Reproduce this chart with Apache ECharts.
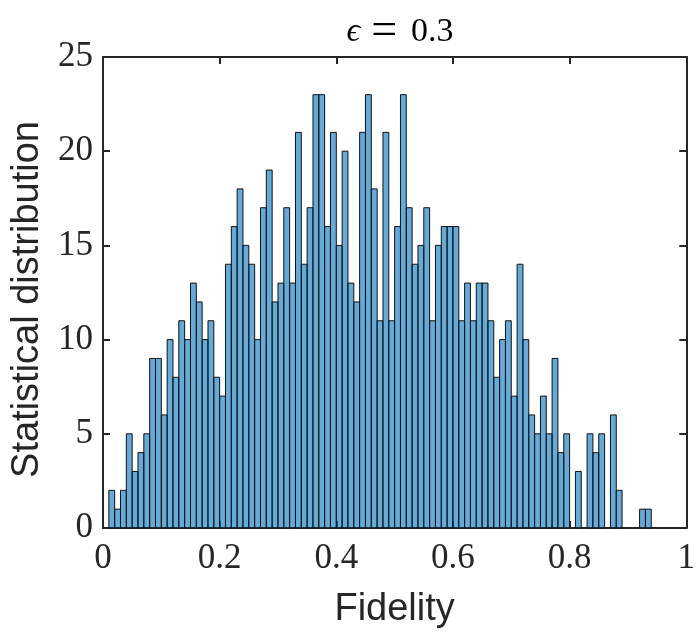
<!DOCTYPE html>
<html>
<head>
<meta charset="utf-8">
<script src="https://cdn.jsdelivr.net/npm/echarts@6/dist/echarts.min.js"></script>
<style>
html,body{margin:0;padding:0;background:#fff;}
#chart{width:698px;height:634px;}
</style>
</head>
<body>
<div id="chart"></div>
<script>
// Histogram: bins of width 0.01 starting at 0.01
var binStart = 0.01;
var binWidth = 0.01;
var counts = [
  2, 1, 2, 5, 3, 4, 5, 9, 9, 6,
  10, 8, 11, 10, 13, 12, 10, 11, 8, 7,
  14, 16, 18, 15, 14, 10, 17, 19, 12, 13,
  17, 13, 21, 14, 17, 23, 23, 16, 21, 15,
  20, 13, 12, 21, 23, 18, 11, 21, 11, 16,
  23, 17, 14, 15, 17, 11, 15, 16, 16, 16,
  11, 13, 11, 13, 13, 11, 8, 10, 11, 7,
  14, 10, 6, 5, 7, 5, 9, 4, 5, 0,
  3, 0, 5, 4, 5, 0, 6, 2, 0, 0,
  0, 1, 1
];
var xTicks = [0, 0.2, 0.4, 0.6, 0.8, 1];
var yTicks = [0, 5, 10, 15, 20, 25];
var titleText = '{e|ϵ}{eq|=}{n|0.3}';
var xName = 'Fidelity';
var yName = 'Statistical distribution';

var data = counts.map(function (c, i) {
  var x0 = +(binStart + i * binWidth).toFixed(4);
  var x1 = +(x0 + binWidth).toFixed(4);
  return [x0, x1, c];
});

var axisColor = '#262626';
var serif = '"Liberation Serif", "DejaVu Serif", serif';
var sans = '"Liberation Sans", Arial, sans-serif';

var chart = echarts.init(document.getElementById('chart'), null, {renderer: 'canvas'});
var baseX = {
  type: 'value', min: 0, max: 1, interval: 0.2,
  axisLine: {show: true, onZero: false, lineStyle: {color: axisColor, width: 2}},
  axisTick: {show: true, inside: true, length: 7, lineStyle: {color: axisColor, width: 2}},
  splitLine: {show: false}
};
var baseY = {
  type: 'value', min: 0, max: 25, interval: 5,
  axisLine: {show: true, onZero: false, lineStyle: {color: axisColor, width: 2}},
  axisTick: {show: true, inside: true, length: 7, lineStyle: {color: axisColor, width: 2}},
  splitLine: {show: false}
};
chart.setOption({
  animation: false,
  backgroundColor: '#ffffff',
  title: {
    text: titleText,
    left: 395, textAlign: 'center',
    top: 4,
    textStyle: {
      fontFamily: serif, fontSize: 34, fontWeight: 'normal', color: '#000',
      rich: {
        e: {fontFamily: serif, fontStyle: 'italic', fontSize: 34, color: '#000'},
        eq: {fontFamily: serif, fontSize: 46, color: '#000', padding: [0, 14, 0, 11]},
        n: {fontFamily: serif, fontSize: 34, color: '#000'}
      }
    }
  },
  grid: {left: 103, top: 57, width: 585, height: 476, containLabel: false},
  xAxis: [
    Object.assign({}, baseX, {
      position: 'bottom',
      name: xName, nameLocation: 'middle', nameGap: 63,
      nameTextStyle: {fontFamily: sans, fontSize: 38, color: '#262626'},
      axisLabel: {
        show: true, margin: 13, color: '#262626', fontFamily: serif, fontSize: 35,
        formatter: function (v) { return xTicks.indexOf(+v.toFixed(1)) >= 0 ? String(+v.toFixed(1)) : ''; }
      }
    }),
    Object.assign({}, baseX, {position: 'top', axisLabel: {show: false}})
  ],
  yAxis: [
    Object.assign({}, baseY, {
      position: 'left',
      name: yName, nameLocation: 'middle', nameGap: 56, nameRotate: 90,
      nameTextStyle: {fontFamily: sans, fontSize: 38, color: '#262626', padding: [0, 14, 0, 0]},
      axisLabel: {
        show: true, margin: 10, color: '#262626', fontFamily: serif, fontSize: 35,
        formatter: function (v) { return yTicks.indexOf(v) >= 0 ? String(v) : ''; }
      }
    }),
    Object.assign({}, baseY, {position: 'right', axisLabel: {show: false}})
  ],
  series: [{
    type: 'custom',
    xAxisIndex: 0, yAxisIndex: 0,
    data: data,
    encode: {x: [0, 1], y: 2},
    renderItem: function (params, api) {
      var h = api.value(2);
      if (!h) return null;
      var p0 = api.coord([api.value(0), h]);
      var p1 = api.coord([api.value(1), 0]);
      return {
        type: 'rect',
        shape: {x: p0[0], y: p0[1], width: p1[0] - p0[0], height: p1[1] - p0[1]},
        style: {fill: 'rgba(0,114,189,0.6)', stroke: '#111', lineWidth: 1}
      };
    }
  }]
});
</script>
</body>
</html>
